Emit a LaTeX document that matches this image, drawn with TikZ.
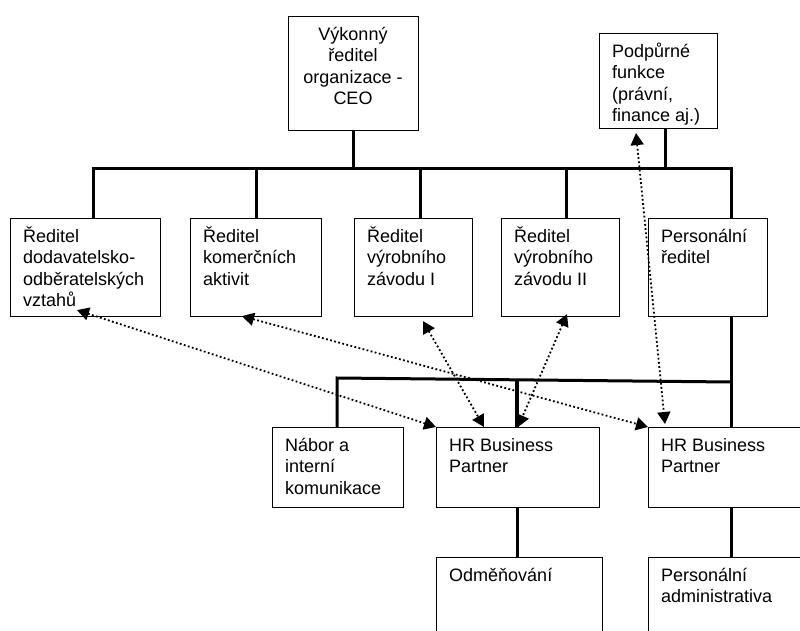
\documentclass[tikz,border=0pt]{standalone}
\usepackage{fontspec}
\setmainfont{Liberation Sans}
\usetikzlibrary{arrows.meta}
\begin{document}
\begin{tikzpicture}[x=1pt,y=-1pt,
  box/.style={draw, line width=1.1pt, inner sep=0pt, anchor=north west},
  txt/.style={inner sep=0pt, anchor=north west, align=left, font=\fontsize{18}{21.5}\selectfont},
  ctxt/.style={inner sep=0pt, anchor=north, align=center, font=\fontsize{18}{21.5}\selectfont},
  conn/.style={line width=3pt},
  rel/.style={line width=1.8pt, dash pattern=on 1.8pt off 2.4pt,
    {Triangle[length=12pt,width=13pt]}-{Triangle[length=12pt,width=13pt]}}]
\useasboundingbox (0,0) rectangle (800,631);
\clip (0,0) rectangle (800,631);
\newcommand{\fl}{\rule{0pt}{18pt}}
% boxes
\node[box, minimum width=130pt, minimum height=114pt] (ceo) at (288,16) {};
\node[ctxt] (tceo) at (353,22) {\fl Výkonný\\ředitel\\organizace -\\CEO};
\node[box, minimum width=118pt, minimum height=95pt] (pod) at (599,33) {};
\node[txt] (tpod) at (612,39) {\fl Podpůrné\\funkce\\(právní,\\finance aj.)};
\node[box, minimum width=150pt, minimum height=98pt] (b1) at (10,218) {};
\node[txt] (tb1) at (23,224) {\fl Ředitel\\dodavatelsko-\\odběratelských\\vztahů};
\node[box, minimum width=131pt, minimum height=98pt] (b2) at (190,218) {};
\node[txt] (tb2) at (203,224) {\fl Ředitel\\komerčních\\aktivit};
\node[box, minimum width=118pt, minimum height=98pt] (b3) at (354,218) {};
\node[txt] (tb3) at (367,224) {\fl Ředitel\\výrobního\\závodu I};
\node[box, minimum width=118pt, minimum height=98pt] (b4) at (501,218) {};
\node[txt] (tb4) at (514,224) {\fl Ředitel\\výrobního\\závodu II};
\node[box, minimum width=119pt, minimum height=98pt] (b5) at (648,218) {};
\node[txt] (tb5) at (661,224) {\fl Personální\\ředitel};
\node[box, minimum width=131pt, minimum height=80pt] (nab) at (272,427) {};
\node[txt] (tnab) at (285,433) {\fl Nábor a\\interní\\komunikace};
\node[box, minimum width=163pt, minimum height=80pt] (hr1) at (436,427) {};
\node[txt] (thr1) at (449,433) {\fl HR Business\\Partner};
\node[box, minimum width=170pt, minimum height=80pt] (hr2) at (648,427) {};
\node[txt] (thr2) at (661,433) {\fl HR Business\\Partner};
\node[box, minimum width=166pt, minimum height=100pt] (odm) at (436,557) {};
\node[txt] (todm) at (449,563) {\fl Odměňování};
\node[box, minimum width=170pt, minimum height=100pt] (adm) at (648,557) {};
\node[txt] (tadm) at (661,563) {\fl Personální\\administrativa};
% top bus
\coordinate (busL) at ([xshift=83pt,yshift=49pt]b1.north west);
\draw[conn] ([xshift=83pt]b1.north west) -- (busL) -| ([xshift=83pt]b5.north west);
\draw[conn] (ceo.south) -- (ceo.south |- busL);
\draw[conn] ([xshift=66pt]pod.south west) -- ([xshift=66pt]pod.south west |- busL);
\draw[conn] (b2.north) -- (b2.north |- busL);
\draw[conn] ([xshift=66pt]b3.north west) -- ([xshift=66pt]b3.north west |- busL);
\draw[conn] ([xshift=65pt]b4.north west) -- ([xshift=65pt]b4.north west |- busL);
% HR structure
\draw[conn] ([xshift=83pt]b5.south west) -- ([xshift=83pt]hr2.north west);
\coordinate (sbL) at ([xshift=65pt,yshift=49pt]nab.north west);
\coordinate (sbR) at ([xshift=83pt,yshift=45pt]hr2.north west);
\draw[conn] ([xshift=65pt]nab.north west) -- (sbL) -- (sbR);
\draw[line width=3.6pt] ([xshift=81pt]hr1.north west) -- ([xshift=81pt,yshift=47pt]hr1.north west);
\draw[conn] ([xshift=81pt]hr1.south west) -- ([xshift=81pt]odm.north west);
\draw[conn] ([xshift=83pt]hr2.south west) -- ([xshift=83pt]adm.north west);
% dotted relations
\draw[rel] ([xshift=67pt,yshift=7pt]b1.south west) -- (hr1.north west);
\draw[rel] ([xshift=52pt,yshift=1pt]b2.south west) -- (hr2.north west);
\draw[rel] ([xshift=69pt,yshift=-4pt]b3.south west) -- ([xshift=48pt]hr1.north west);
\draw[rel] ([xshift=66pt,yshift=3pt]b4.south west) -- ([xshift=82pt]hr1.north west);
\draw[rel] ([xshift=37pt,yshift=-4pt]pod.south west) -- ([xshift=17pt,yshift=3pt]hr2.north west);
\end{tikzpicture}
\end{document}
